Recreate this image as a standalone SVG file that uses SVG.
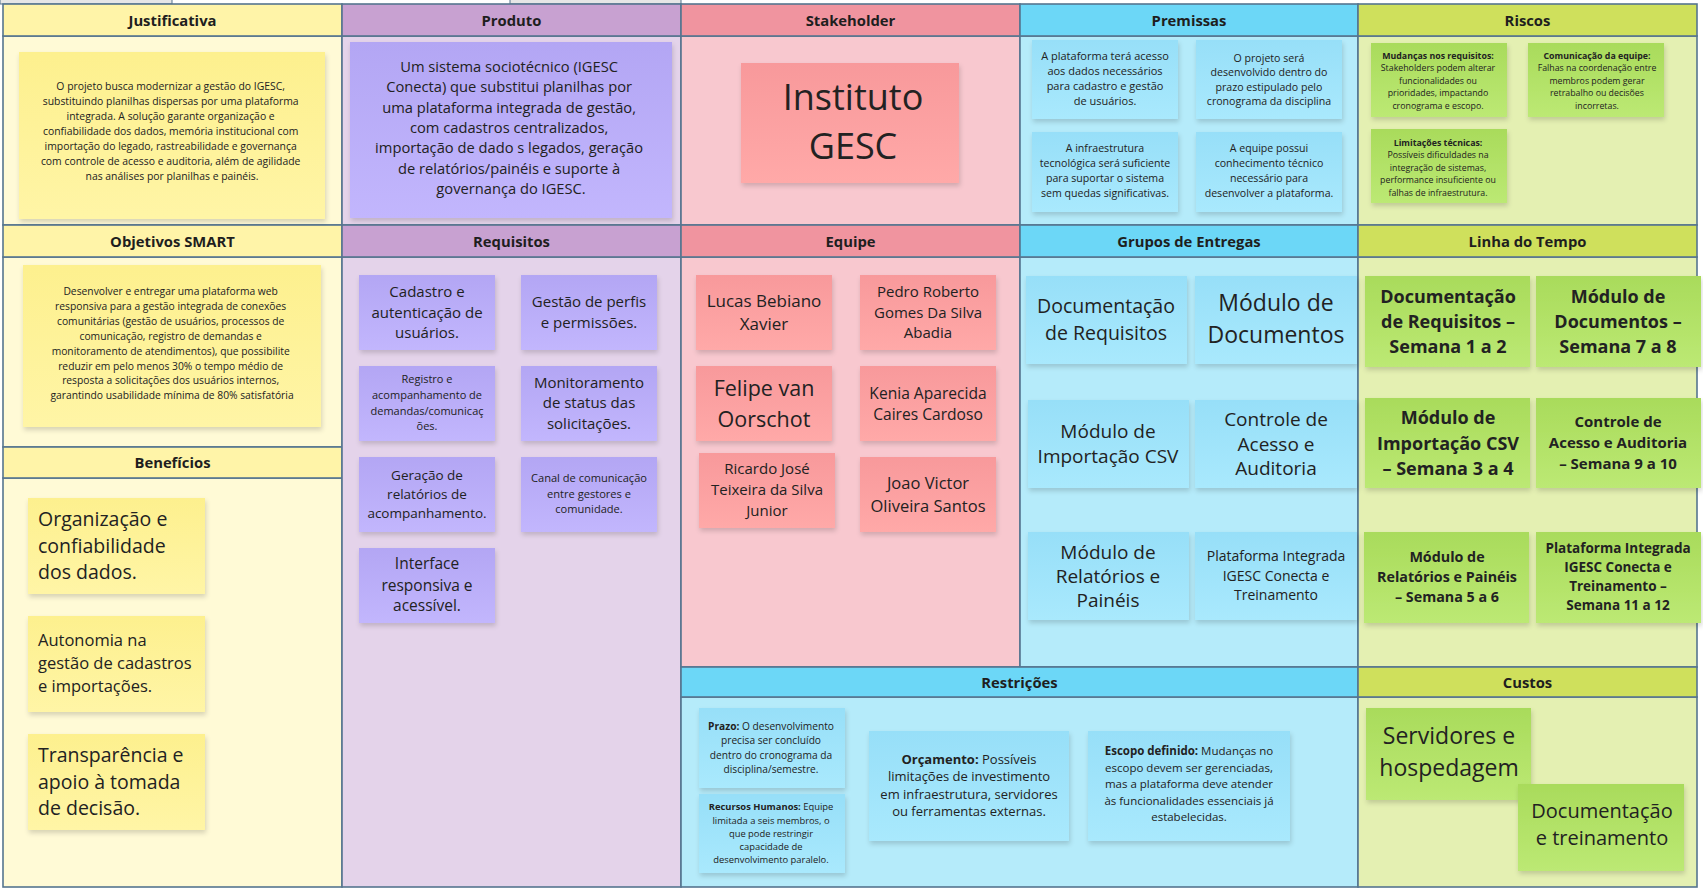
<svg xmlns="http://www.w3.org/2000/svg" width="1703" height="891" viewBox="0 0 1703 891">
<defs>
<filter id="sh" x="-10%" y="-10%" width="125%" height="130%"><feDropShadow dx="1" dy="3" stdDeviation="2.5" flood-color="#000" flood-opacity="0.16"/></filter>
<linearGradient id="gy" x1="0" y1="0" x2="0" y2="1"><stop offset="0" stop-color="#fdf08e"/><stop offset="1" stop-color="#fff5a6"/></linearGradient>
<linearGradient id="gp" x1="0" y1="0" x2="0" y2="1"><stop offset="0" stop-color="#b3a6f4"/><stop offset="1" stop-color="#c2b6fd"/></linearGradient>
<linearGradient id="gr" x1="0" y1="0" x2="0" y2="1"><stop offset="0" stop-color="#f8999b"/><stop offset="1" stop-color="#ffa9a8"/></linearGradient>
<linearGradient id="gb" x1="0" y1="0" x2="0" y2="1"><stop offset="0" stop-color="#97dff8"/><stop offset="1" stop-color="#a9e9fd"/></linearGradient>
<linearGradient id="gg" x1="0" y1="0" x2="0" y2="1"><stop offset="0" stop-color="#a9db5b"/><stop offset="1" stop-color="#bce974"/></linearGradient>
</defs>
<style>
text{font-family:'Open Sans','Noto Sans','Liberation Sans',sans-serif;fill:#222;}
.c{text-anchor:middle;}
.h{font-weight:700;font-size:14.8px;text-anchor:middle;fill:#1e1e1e;}
.b{font-weight:700;}
.cell{stroke:#56758f;stroke-width:1.6;}
.st{filter:url(#sh);}
.y{fill:url(#gy);} .p{fill:url(#gp);} .r{fill:url(#gr);} .bl{fill:url(#gb);} .g{fill:url(#gg);}
.hy{fill:#fff4a8;} .by{fill:#fffad6;}
.hp{fill:#c8a1d1;} .bp{fill:#e4d3ea;}
.hr{fill:#f0949f;} .br{fill:#f8c8cf;}
.hb{fill:#6cd7f7;} .bb{fill:#b5ebfa;}
.hg{fill:#cfe05c;} .bg{fill:#e4f0b2;}
</style>
<rect x="0" y="0" width="1703" height="891" fill="#ffffff"/>
<g id="top-strip">
<rect x="0" y="-2" width="172" height="6" fill="#e6e6e6" stroke="#56758f" stroke-width="1"/>
<rect x="510" y="-2" width="171" height="6" fill="#e6e6e6" stroke="#56758f" stroke-width="1"/>
</g>
<g id="canvas">
<rect class="cell by" x="3" y="36" width="339" height="189"/>
<rect class="cell by" x="3" y="257" width="339" height="190"/>
<rect class="cell by" x="3" y="478" width="339" height="409"/>
<rect class="cell hy" x="3" y="4" width="339" height="32"/>
<rect class="cell hy" x="3" y="225" width="339" height="32"/>
<rect class="cell hy" x="3" y="447" width="339" height="31"/>
<rect class="cell bp" x="342" y="36" width="339" height="189"/>
<rect class="cell bp" x="342" y="257" width="339" height="630"/>
<rect class="cell hp" x="342" y="4" width="339" height="32"/>
<rect class="cell hp" x="342" y="225" width="339" height="32"/>
<rect class="cell br" x="681" y="36" width="339" height="189"/>
<rect class="cell br" x="681" y="257" width="339" height="410"/>
<rect class="cell hr" x="681" y="4" width="339" height="32"/>
<rect class="cell hr" x="681" y="225" width="339" height="32"/>
<rect class="cell bb" x="1020" y="36" width="338" height="189"/>
<rect class="cell bb" x="1020" y="257" width="338" height="410"/>
<rect class="cell hb" x="1020" y="4" width="338" height="32"/>
<rect class="cell hb" x="1020" y="225" width="338" height="32"/>
<rect class="cell bb" x="681" y="697" width="677" height="190"/>
<rect class="cell hb" x="681" y="667" width="677" height="30"/>
<rect class="cell bg" x="1358" y="36" width="339" height="189"/>
<rect class="cell bg" x="1358" y="257" width="339" height="410"/>
<rect class="cell bg" x="1358" y="697" width="339" height="190"/>
<rect class="cell hg" x="1358" y="4" width="339" height="32"/>
<rect class="cell hg" x="1358" y="225" width="339" height="32"/>
<rect class="cell hg" x="1358" y="667" width="339" height="30"/>
<text class="h" x="172.5" y="25.5">Justificativa</text>
<text class="h" x="511.5" y="25.5">Produto</text>
<text class="h" x="850.5" y="25.5">Stakeholder</text>
<text class="h" x="1189" y="25.5">Premissas</text>
<text class="h" x="1527.5" y="25.5">Riscos</text>
<text class="h" x="172.5" y="246.5">Objetivos SMART</text>
<text class="h" x="511.5" y="246.5">Requisitos</text>
<text class="h" x="850.5" y="246.5">Equipe</text>
<text class="h" x="1189" y="246.5">Grupos de Entregas</text>
<text class="h" x="1527.5" y="246.5">Linha do Tempo</text>
<text class="h" x="172.5" y="467.5">Benefícios</text>
<text class="h" x="1019.5" y="687.5">Restrições</text>
<text class="h" x="1527.5" y="687.5">Custos</text>
</g>
<g id="connectors"></g>

<g id="justificativa-note">
<rect class="st y" x="19" y="52" width="306" height="167"/>
<text class="c" font-size="10.4" x="172">
<tspan x="172" y="90">O projeto busca modernizar a gestão do IGESC,</tspan>
<tspan x="172" y="105">substituindo planilhas dispersas por uma plataforma</tspan>
<tspan x="172" y="120">integrada. A solução garante organização e</tspan>
<tspan x="172" y="135">confiabilidade dos dados, memória institucional com</tspan>
<tspan x="172" y="150">importação do legado, rastreabilidade e governança</tspan>
<tspan x="172" y="165">com controle de acesso e auditoria, além de agilidade</tspan>
<tspan x="172" y="180">nas análises por planilhas e painéis.</tspan>
</text>
</g>
<g id="objetivos-note">
<rect class="st y" x="23" y="265" width="298" height="162"/>
<text class="c" font-size="10.3">
<tspan x="172" y="295">Desenvolver e entregar uma plataforma web</tspan>
<tspan x="172" y="310">responsiva para a gestão integrada de conexões</tspan>
<tspan x="172" y="325">comunitárias (gestão de usuários, processos de</tspan>
<tspan x="172" y="340">comunicação, registro de demandas e</tspan>
<tspan x="172" y="355">monitoramento de atendimentos), que possibilite</tspan>
<tspan x="172" y="370">reduzir em pelo menos 30% o tempo médio de</tspan>
<tspan x="172" y="384">resposta a solicitações dos usuários internos,</tspan>
<tspan x="172" y="399">garantindo usabilidade mínima de 80% satisfatória</tspan>
</text>
</g>
<g id="beneficio-1">
<rect class="st y" x="28" y="498" width="177" height="96"/>
<text font-size="19.5"><tspan x="38" y="526">Organização e</tspan><tspan x="38" y="553">confiabilidade</tspan><tspan x="38" y="579">dos dados.</tspan></text>
</g>
<g id="beneficio-2">
<rect class="st y" x="28" y="616" width="177" height="96"/>
<text font-size="16.5"><tspan x="38" y="646">Autonomia na</tspan><tspan x="38" y="669">gestão de cadastros</tspan><tspan x="38" y="692">e importações.</tspan></text>
</g>
<g id="beneficio-3">
<rect class="st y" x="28" y="734" width="177" height="96"/>
<text font-size="19.5"><tspan x="38" y="762">Transparência e</tspan><tspan x="38" y="789">apoio à tomada</tspan><tspan x="38" y="815">de decisão.</tspan></text>
</g>

<g id="produto-note">
<rect class="st p" x="350" y="42" width="322" height="176"/>
<text class="c" font-size="14.7">
<tspan x="511" y="72">Um sistema sociotécnico (IGESC</tspan>
<tspan x="511" y="92">Conecta) que substitui planilhas por</tspan>
<tspan x="511" y="112.5">uma plataforma integrada de gestão,</tspan>
<tspan x="511" y="133">com cadastros centralizados,</tspan>
<tspan x="511" y="153">importação de dado s legados, geração</tspan>
<tspan x="511" y="173.5">de relatórios/painéis e suporte à</tspan>
<tspan x="511" y="194">governança do IGESC.</tspan>
</text>
</g>
<g id="req-1">
<rect class="st p" x="359" y="275" width="136" height="75"/>
<text class="c" font-size="15"><tspan x="427" y="297">Cadastro e</tspan><tspan x="427" y="318">autenticação de</tspan><tspan x="427" y="338">usuários.</tspan></text>
</g>
<g id="req-2">
<rect class="st p" x="521" y="275" width="136" height="75"/>
<text class="c" font-size="15"><tspan x="589" y="307">Gestão de perfis</tspan><tspan x="589" y="328">e permissões.</tspan></text>
</g>
<g id="req-3">
<rect class="st p" x="359" y="366" width="136" height="75"/>
<text class="c" font-size="11"><tspan x="427" y="383">Registro e</tspan><tspan x="427" y="399">acompanhamento de</tspan><tspan x="427" y="415">demandas/comunicaç</tspan><tspan x="427" y="430">ões.</tspan></text>
</g>
<g id="req-4">
<rect class="st p" x="521" y="366" width="136" height="75"/>
<text class="c" font-size="15"><tspan x="589" y="388">Monitoramento</tspan><tspan x="589" y="408">de status das</tspan><tspan x="589" y="429">solicitações.</tspan></text>
</g>
<g id="req-5">
<rect class="st p" x="359" y="457" width="136" height="75"/>
<text class="c" font-size="13.5"><tspan x="427" y="479.5">Geração de</tspan><tspan x="427" y="498.5">relatórios de</tspan><tspan x="427" y="517.5">acompanhamento.</tspan></text>
</g>
<g id="req-6">
<rect class="st p" x="521" y="457" width="136" height="75"/>
<text class="c" font-size="11.1"><tspan x="589" y="482">Canal de comunicação</tspan><tspan x="589" y="498">entre gestores e</tspan><tspan x="589" y="513">comunidade.</tspan></text>
</g>
<g id="req-7">
<rect class="st p" x="359" y="548" width="136" height="75"/>
<text class="c" font-size="15.5"><tspan x="427" y="569">Interface</tspan><tspan x="427" y="591">responsiva e</tspan><tspan x="427" y="611">acessível.</tspan></text>
</g>

<g id="stakeholder-note">
<rect class="st r" x="741" y="63" width="218" height="120"/>
<text class="c" font-size="36"><tspan x="853" y="110">Instituto</tspan><tspan x="853" y="159">GESC</tspan></text>
</g>
<g id="equipe-1">
<rect class="st r" x="696" y="275" width="136" height="75"/>
<text class="c" font-size="17"><tspan x="764" y="307">Lucas Bebiano</tspan><tspan x="764" y="330">Xavier</tspan></text>
</g>
<g id="equipe-2">
<rect class="st r" x="860" y="275" width="136" height="75"/>
<text class="c" font-size="15"><tspan x="928" y="297">Pedro Roberto</tspan><tspan x="928" y="318">Gomes Da Silva</tspan><tspan x="928" y="338">Abadia</tspan></text>
</g>
<g id="equipe-3">
<rect class="st r" x="696" y="366" width="136" height="75"/>
<text class="c" font-size="21.5"><tspan x="764" y="395.5">Felipe van</tspan><tspan x="764" y="426.5">Oorschot</tspan></text>
</g>
<g id="equipe-4">
<rect class="st r" x="860" y="366" width="136" height="75"/>
<text class="c" font-size="15.6"><tspan x="928" y="398.5">Kenia Aparecida</tspan><tspan x="928" y="419.5">Caires Cardoso</tspan></text>
</g>
<g id="equipe-5">
<rect class="st r" x="699" y="453" width="136" height="75"/>
<text class="c" font-size="15"><tspan x="767" y="474">Ricardo José</tspan><tspan x="767" y="495">Teixeira da Silva</tspan><tspan x="767" y="516">Junior</tspan></text>
</g>
<g id="equipe-6">
<rect class="st r" x="860" y="457" width="136" height="75"/>
<text class="c" font-size="16.5"><tspan x="928" y="489">Joao Victor</tspan><tspan x="928" y="512">Oliveira Santos</tspan></text>
</g>

<g id="premissa-1">
<rect class="st bl" x="1032" y="40" width="146" height="79"/>
<text class="c" font-size="11"><tspan x="1105" y="59.5">A plataforma terá acesso</tspan><tspan x="1105" y="74.5">aos dados necessários</tspan><tspan x="1105" y="89.5">para cadastro e gestão</tspan><tspan x="1105" y="104.5">de usuários.</tspan></text>
</g>
<g id="premissa-2">
<rect class="st bl" x="1196" y="40" width="146" height="79"/>
<text class="c" font-size="10.6"><tspan x="1269" y="61.5">O projeto será</tspan><tspan x="1269" y="76">desenvolvido dentro do</tspan><tspan x="1269" y="90.5">prazo estipulado pelo</tspan><tspan x="1269" y="104.5">cronograma da disciplina</tspan></text>
</g>
<g id="premissa-3">
<rect class="st bl" x="1032" y="132" width="146" height="80"/>
<text class="c" font-size="10.6"><tspan x="1105" y="152">A infraestrutura</tspan><tspan x="1105" y="167">tecnológica será suficiente</tspan><tspan x="1105" y="182">para suportar o sistema</tspan><tspan x="1105" y="196.5">sem quedas significativas.</tspan></text>
</g>
<g id="premissa-4">
<rect class="st bl" x="1196" y="132" width="146" height="80"/>
<text class="c" font-size="10.6"><tspan x="1269" y="152">A equipe possui</tspan><tspan x="1269" y="167">conhecimento técnico</tspan><tspan x="1269" y="182">necessário para</tspan><tspan x="1269" y="196.5">desenvolver a plataforma.</tspan></text>
</g>

<g id="entrega-1">
<rect class="st bl" x="1026" y="276" width="161" height="88"/>
<text class="c" font-size="19.5"><tspan x="1106" y="313">Documentação</tspan><tspan x="1106" y="340">de Requisitos</tspan></text>
</g>
<g id="entrega-2">
<rect class="st bl" x="1195" y="276" width="162" height="88"/>
<text class="c" font-size="23"><tspan x="1276" y="311">Módulo de</tspan><tspan x="1276" y="343">Documentos</tspan></text>
</g>
<g id="entrega-3">
<rect class="st bl" x="1028" y="400" width="161" height="88"/>
<text class="c" font-size="19"><tspan x="1108" y="437.5">Módulo de</tspan><tspan x="1108" y="462.5">Importação CSV</tspan></text>
</g>
<g id="entrega-4">
<rect class="st bl" x="1195" y="400" width="162" height="88"/>
<text class="c" font-size="19"><tspan x="1276" y="425.5">Controle de</tspan><tspan x="1276" y="450.5">Acesso e</tspan><tspan x="1276" y="474.5">Auditoria</tspan></text>
</g>
<g id="entrega-5">
<rect class="st bl" x="1028" y="532" width="161" height="88"/>
<text class="c" font-size="19"><tspan x="1108" y="558.5">Módulo de</tspan><tspan x="1108" y="582.5">Relatórios e</tspan><tspan x="1108" y="606.5">Painéis</tspan></text>
</g>
<g id="entrega-6">
<rect class="st bl" x="1195" y="532" width="162" height="88"/>
<text class="c" font-size="14"><tspan x="1276" y="561">Plataforma Integrada</tspan><tspan x="1276" y="581">IGESC Conecta e</tspan><tspan x="1276" y="600">Treinamento</tspan></text>
</g>

<g id="risco-1">
<rect class="st g" x="1371" y="43" width="136" height="74"/>
<text class="c" font-size="8.8"><tspan class="b" x="1438" y="59">Mudanças nos requisitos:</tspan><tspan x="1438" y="71.4">Stakeholders podem alterar</tspan><tspan x="1438" y="83.8">funcionalidades ou</tspan><tspan x="1438" y="96.2">prioridades, impactando</tspan><tspan x="1438" y="108.6">cronograma e escopo.</tspan></text>
</g>
<g id="risco-2">
<rect class="st g" x="1528" y="43" width="136" height="74"/>
<text class="c" font-size="8.8"><tspan class="b" x="1597" y="59">Comunicação da equipe:</tspan><tspan x="1597" y="71.4">Falhas na coordenação entre</tspan><tspan x="1597" y="83.8">membros podem gerar</tspan><tspan x="1597" y="96.2">retrabalho ou decisões</tspan><tspan x="1597" y="108.6">incorretas.</tspan></text>
</g>
<g id="risco-3">
<rect class="st g" x="1371" y="129" width="136" height="74"/>
<text class="c" font-size="8.8"><tspan class="b" x="1438" y="146">Limitações técnicas:</tspan><tspan x="1438" y="158.4">Possíveis dificuldades na</tspan><tspan x="1438" y="170.8">integração de sistemas,</tspan><tspan x="1438" y="183.2">performance insuficiente ou</tspan><tspan x="1438" y="195.6">falhas de infraestrutura.</tspan></text>
</g>

<g id="tempo-1">
<rect class="st g" x="1365" y="276" width="165" height="91"/>
<text class="c b" font-size="18"><tspan x="1448" y="302.5">Documentação</tspan><tspan x="1448" y="327.5">de Requisitos –</tspan><tspan x="1448" y="352.5">Semana 1 a 2</tspan></text>
</g>
<g id="tempo-2">
<rect class="st g" x="1536" y="276" width="165" height="91"/>
<text class="c b" font-size="18"><tspan x="1618" y="302.5">Módulo de</tspan><tspan x="1618" y="327.5">Documentos –</tspan><tspan x="1618" y="352.5">Semana 7 a 8</tspan></text>
</g>
<g id="tempo-3">
<rect class="st g" x="1365" y="398" width="165" height="90"/>
<text class="c b" font-size="18"><tspan x="1448" y="423.5">Módulo de</tspan><tspan x="1448" y="449.5">Importação CSV</tspan><tspan x="1448" y="474.5">– Semana 3 a 4</tspan></text>
</g>
<g id="tempo-4">
<rect class="st g" x="1536" y="398" width="165" height="90"/>
<text class="c b" font-size="15"><tspan x="1618" y="426.5">Controle de</tspan><tspan x="1618" y="447.5">Acesso e Auditoria</tspan><tspan x="1618" y="468.5">– Semana 9 a 10</tspan></text>
</g>
<g id="tempo-5">
<rect class="st g" x="1364" y="532" width="165" height="91"/>
<text class="c b" font-size="14.3"><tspan x="1447" y="562">Módulo de</tspan><tspan x="1447" y="582">Relatórios e Painéis</tspan><tspan x="1447" y="602">– Semana 5 a 6</tspan></text>
</g>
<g id="tempo-6">
<rect class="st g" x="1536" y="532" width="165" height="91"/>
<text class="c b" font-size="13.5"><tspan x="1618" y="553">Plataforma Integrada</tspan><tspan x="1618" y="572">IGESC Conecta e</tspan><tspan x="1618" y="591">Treinamento –</tspan><tspan x="1618" y="610">Semana 11 a 12</tspan></text>
</g>

<g id="restricao-prazo">
<rect class="st bl" x="699" y="708" width="146" height="80"/>
<text class="c" font-size="10.2"><tspan x="771" y="729.5"><tspan class="b">Prazo:</tspan> O desenvolvimento</tspan><tspan x="771" y="744">precisa ser concluído</tspan><tspan x="771" y="758.5">dentro do cronograma da</tspan><tspan x="771" y="772.5">disciplina/semestre.</tspan></text>
</g>
<g id="restricao-recursos">
<rect class="st bl" x="699" y="794" width="146" height="79"/>
<text class="c" font-size="9.4"><tspan x="771" y="810"><tspan class="b">Recursos Humanos:</tspan> Equipe</tspan><tspan x="771" y="823.5">limitada a seis membros, o</tspan><tspan x="771" y="837">que pode restringir</tspan><tspan x="771" y="849.5">capacidade de</tspan><tspan x="771" y="862.5">desenvolvimento paralelo.</tspan></text>
</g>
<g id="restricao-orcamento">
<rect class="st bl" x="869" y="731" width="200" height="110"/>
<text class="c" font-size="13"><tspan x="969" y="763.5"><tspan class="b">Orçamento:</tspan> Possíveis</tspan><tspan x="969" y="781">limitações de investimento</tspan><tspan x="969" y="798.5">em infraestrutura, servidores</tspan><tspan x="969" y="816">ou ferramentas externas.</tspan></text>
</g>
<g id="restricao-escopo">
<rect class="st bl" x="1088" y="731" width="202" height="110"/>
<text class="c" font-size="11.5"><tspan x="1189" y="755"><tspan class="b">Escopo definido:</tspan> Mudanças no</tspan><tspan x="1189" y="771.5">escopo devem ser gerenciadas,</tspan><tspan x="1189" y="788">mas a plataforma deve atender</tspan><tspan x="1189" y="804.5">às funcionalidades essenciais já</tspan><tspan x="1189" y="821">estabelecidas.</tspan></text>
</g>

<g id="custo-1">
<rect class="st g" x="1366" y="708" width="165" height="92"/>
<text class="c" font-size="23"><tspan x="1449" y="744">Servidores e</tspan><tspan x="1449" y="776">hospedagem</tspan></text>
</g>
<g id="custo-2">
<rect class="st g" x="1518" y="784" width="166" height="87"/>
<text class="c" font-size="20"><tspan x="1602" y="818">Documentação</tspan><tspan x="1602" y="845">e treinamento</tspan></text>
</g>
</svg>
